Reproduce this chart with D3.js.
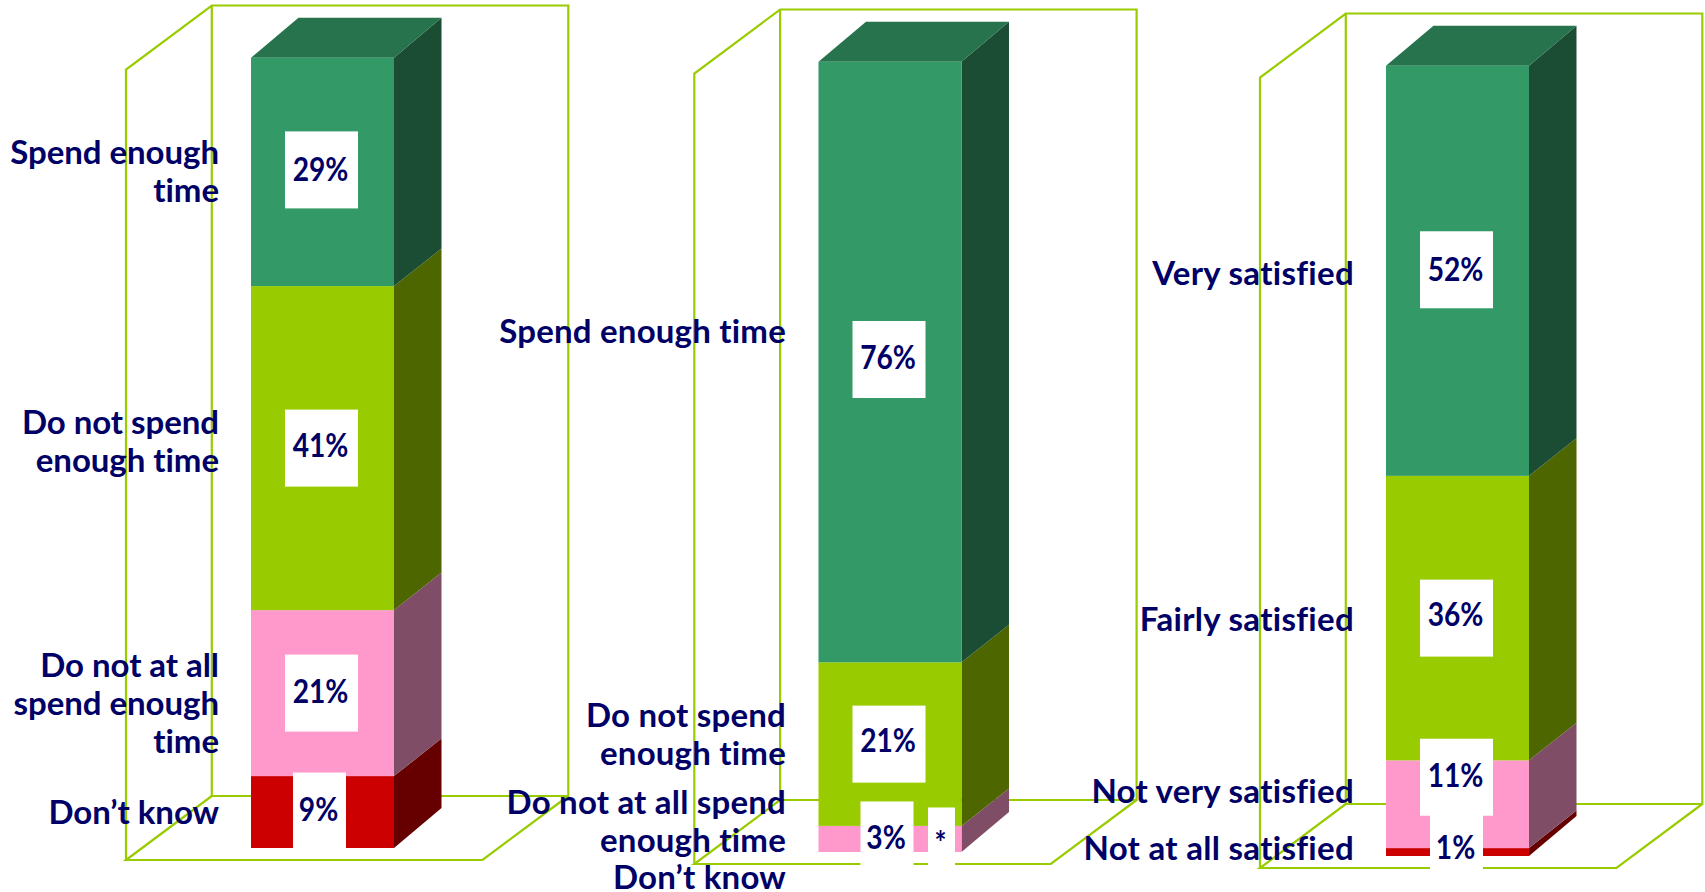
<!DOCTYPE html>
<html><head><meta charset="utf-8">
<script src="https://cdn.jsdelivr.net/npm/d3@7"></script>
<style>html,body{margin:0;padding:0;background:#fff;overflow:hidden}svg{display:block}text{font-family:Lato,"Open Sans",sans-serif;font-weight:700;fill:#000066}</style>
</head><body><div id="chart"></div>
<script>
// ---- data ----
const panels = ["Time A", "Time B", "Satisfaction"];
const seriesColors = ["#cc0000", "#ff99cc", "#99cc00", "#339966"];
const values1 = [9.1, 21, 41, 28.9];
const values2 = [0, 3.3, 20.7, 76];
const values3 = [1, 11.1, 36, 51.9];
const valueLabels1 = ["9%", "21%", "41%", "29%"];
const valueLabels2 = ["*", "3%", "21%", "76%"];
const valueLabels3 = ["1%", "11%", "36%", "52%"];
const categories1 = [["Don\u2019t know"], ["Do not at all", "spend enough", "time"], ["Do not spend", "enough time"], ["Spend enough", "time"]];
const categories2 = [["Don\u2019t know"], ["Do not at all spend", "enough time"], ["Do not spend", "enough time"], ["Spend enough time"]];
const categories3 = [["Not at all satisfied"], ["Not very satisfied"], ["Fairly satisfied"], ["Very satisfied"]];
const allValues = [values1, values2, values3];
const allValueLabels = [valueLabels1, valueLabels2, valueLabels3];
const allCategories = [categories1, categories2, categories3];

// ---- layout ----
const W = 1705, H = 892;
const panelDy = [0, 4, 8];
const wallLeft = [126, 694.3, 1260];
const wallDepth = {dx: 85.8, dy: 64};
const wallWidth = 356.5;
const barDepth = {dx: 47.5, dy: 40, inner: 37.5};
const plotBottom = 848, plotTop = 57.7;
const floorDrop = 12, wallRise = 11.8;
// nudges of value boxes from segment mid-point [dx, dy]
const boxNudge = [
  [[-3, -1], [-1, 0], [-1, 0], [-1, -2]],
  [[51.5, -6], [-3, 1], [-1, 0], [-1, -2.5]],
  [[-1, 1], [-1, -27], [-1, 0], [-1, -1]]
];
const textNudge = [
  [0, 0, -1, 2],
  [-1, 0, -2, 0],
  [-3.5, 0, -2, 2]
];
const labelSpacing = [-0.05, 0.2, 0.3];
// category label right edges and first baselines
const labelRight = [219, 786, 1354];
const labelBase = [
  [824, 676.7, 434, 164],
  [889, 814, 727, 342.7],
  [860, 802.7, 631, 285]
];
const lineGap = 38;

const x = d3.scaleBand().domain(panels).range([251, 1529]).paddingInner(1 - 143 / 567.5);
const svg = d3.select("#chart").append("svg").attr("width", W).attr("height", H).attr("viewBox", `0 0 ${W} ${H}`);
const shade = (c, k) => { const r = d3.rgb(c); return d3.rgb(r.r * k, r.g * k, r.b * k).formatHex(); };
const line = d3.line();

panels.forEach((p, pi) => {
  const dy0 = panelDy[pi];
  const y = d3.scaleLinear().domain([0, 100]).range([plotBottom + dy0, plotTop + dy0]);
  const g = svg.append("g");
  // wireframe walls
  const fb = y(0) + floorDrop, l = wallLeft[pi], bl = l + wallDepth.dx, r = bl + wallWidth, fr = l + wallWidth;
  const bb = fb - wallDepth.dy, ft = y(100) + wallRise, bt = ft - wallDepth.dy;
  [
    [[l, fb], [l, ft], [bl, bt], [r, bt], [r, bb], [bl, bb], [bl, bt]],
    [[bl, bb], [l, fb], [fr, fb], [r, bb]]
  ].forEach(pts => g.append("path").attr("d", line(pts)).attr("fill", "none").attr("stroke", "#99cc00").attr("stroke-width", 2.2));

  const vals = allValues[pi];
  let cum = 0;
  const segs = vals.map((v, i) => { const s = {i, v, y0: cum, y1: cum + v}; cum += v; return s; });
  const bx = x(p), bw = x.bandwidth();
  const backY = t => y(t) - (t <= 0.001 || t >= 99.9 ? barDepth.dy : barDepth.inner);
  // right sides
  g.selectAll("path.side").data(segs).join("path").attr("class", "side")
    .attr("d", s => line([[bx + bw, y(s.y0)], [bx + bw + barDepth.dx, backY(s.y0)], [bx + bw + barDepth.dx, backY(s.y1)], [bx + bw, y(s.y1)]]) + "Z")
    .attr("fill", s => shade(seriesColors[s.i], 0.5));
  // top
  const t = segs[segs.length - 1];
  g.append("path").attr("d", line([[bx, y(t.y1)], [bx + barDepth.dx, y(t.y1) - barDepth.dy], [bx + bw + barDepth.dx, y(t.y1) - barDepth.dy], [bx + bw, y(t.y1)]]) + "Z")
    .attr("fill", shade(seriesColors[t.i], 0.75));
  // front
  g.selectAll("rect.front").data(segs).join("rect").attr("class", "front")
    .attr("x", bx).attr("width", bw)
    .attr("y", s => y(s.y1)).attr("height", s => y(s.y0) - y(s.y1))
    .attr("fill", s => seriesColors[s.i]);
  // value boxes + text
  const labels = allValueLabels[pi];
  const bh = 77;
  const boxW = s => labels[s].length >= 3 ? 73 : (labels[s].length === 2 ? 53 : 27);
  segs.forEach(s => {
    const cx = bx + bw / 2 + boxNudge[pi][s.i][0];
    const cy = (y(s.y0) + y(s.y1)) / 2 + boxNudge[pi][s.i][1];
    s.cx = cx; s.cy = cy;
    g.append("rect").attr("x", cx - boxW(s.i) / 2).attr("y", cy - bh / 2).attr("width", boxW(s.i)).attr("height", bh).attr("fill", "#fff");
  });
  segs.forEach(s => {
    g.append("text").attr("transform", `translate(${s.cx - 1},${s.cy + 9.5 + textNudge[pi][s.i]}) scale(0.88,1)`)
      .attr("text-anchor", "middle").attr("font-size", 32).text(labels[s.i]);
  });
  // category labels
  allCategories[pi].forEach((ls, i) => {
    const txt = g.append("text").attr("text-anchor", "end").attr("font-size", 33).attr("letter-spacing", labelSpacing[pi]);
    ls.forEach((s, k) => txt.append("tspan").attr("x", labelRight[pi]).attr("y", labelBase[pi][i] + k * lineGap).text(s));
  });
});
</script></body></html>
